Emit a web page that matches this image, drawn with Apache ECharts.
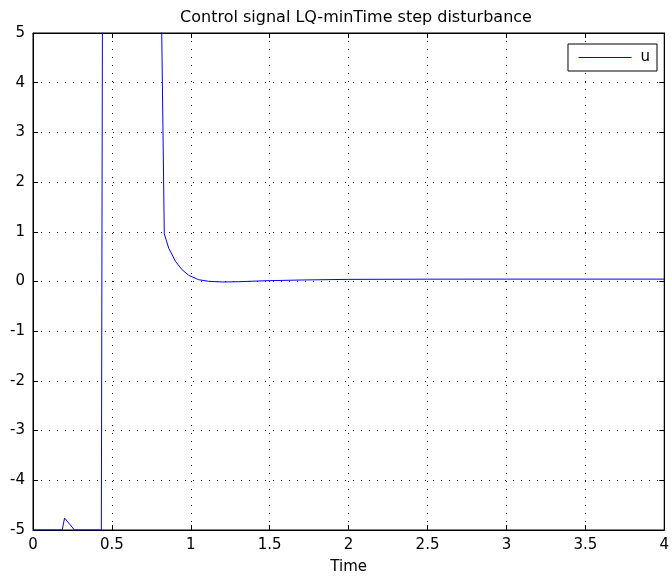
<!DOCTYPE html>
<html>
<head>
<meta charset="utf-8">
<script src="https://cdn.jsdelivr.net/npm/echarts@6/dist/echarts.min.js"></script>
<style>
  html, body { margin: 0; padding: 0; background: #fff; }
  #chart { width: 672px; height: 580px; }
</style>
</head>
<body>
<div id="chart"></div>
<script>
// control signal u(t) (between 0.44 and 0.82 the signal is above the axis top)
const timeValues = [0, 0.185, 0.2, 0.263, 0.433, 0.44, 0.6, 0.815, 0.832, 0.86, 0.904, 0.945, 0.987, 1.05, 1.113, 1.2, 1.3, 1.47, 1.7, 2.0, 2.5, 3.0, 3.5, 4.0];
const uValues    = [-5, -5, -4.76, -5, -5, 5.2, 5.2, 5.2, 0.96, 0.67, 0.40, 0.236, 0.124, 0.036, 0.004, -0.01, -0.005, 0.015, 0.03, 0.043, 0.047, 0.048, 0.048, 0.048];
const xTicks = [0, 0.5, 1, 1.5, 2, 2.5, 3, 3.5, 4];
const yTicks = [-5, -4, -3, -2, -1, 0, 1, 2, 3, 4, 5];

const font = 'DejaVu Sans, Liberation Sans, sans-serif';

const uData = timeValues.map((t, i) => [t, uValues[i]]);

const dotted = {
    show: true,
    lineStyle: { color: '#000', type: [1, 7], width: 1 }
};

function tick() {
    return { show: true, inside: true, length: 5, lineStyle: { color: '#000' } };
}
function axisLine() {
    return { show: true, onZero: false, lineStyle: { color: '#000' } };
}

const option = {
    animation: false,
    color: ['#0000ff'],
    title: {
        text: 'Control signal LQ-minTime step disturbance',
        left: 351,
        textAlign: 'center',
        top: 5,
        textStyle: { fontFamily: font, fontSize: 16, fontWeight: 'normal', color: '#000' }
    },
    legend: {
        data: ['u'],
        right: 15,
        top: 44,
        itemWidth: 53,
        itemHeight: 14,
        itemGap: 0,
        padding: [6, 7, 6, 10],
        borderColor: '#000',
        borderWidth: 1,
        backgroundColor: '#fff',
        // hide the marker dot, keep only the line
        itemStyle: { color: 'rgba(0,0,0,0)', borderColor: 'rgba(0,0,0,0)', borderWidth: 0 },
        lineStyle: { width: 1, color: '#0000ff' },
        textStyle: { fontFamily: font, fontSize: 15, color: '#000', padding: [0, 0, 0, 4] }
    },
    grid: {
        left: 33,
        right: 4,
        top: 33,
        bottom: 46,
        show: true,
        borderColor: '#000',
        borderWidth: 1
    },
    xAxis: [
        {
            type: 'value',
            min: 0, max: 4, interval: 0.5,
            name: 'Time',
            nameLocation: 'middle',
            nameGap: 30,
            nameTextStyle: { fontFamily: font, fontSize: 15, color: '#000' },
            axisLine: axisLine(),
            axisTick: tick(),
            axisLabel: {
                fontFamily: font, fontSize: 15, color: '#000', margin: 8,
                formatter: v => xTicks.includes(v) ? String(v) : ''
            },
            splitLine: dotted
        },
        {
            type: 'value', position: 'top',
            min: 0, max: 4, interval: 0.5,
            axisLine: axisLine(),
            axisTick: tick(),
            axisLabel: { show: false },
            splitLine: { show: false }
        }
    ],
    yAxis: [
        {
            type: 'value',
            min: -5, max: 5, interval: 1,
            axisLine: axisLine(),
            axisTick: tick(),
            axisLabel: {
                fontFamily: font, fontSize: 15, color: '#000', margin: 8,
                formatter: v => yTicks.includes(v) ? String(v) : ''
            },
            splitLine: dotted
        },
        {
            type: 'value', position: 'right',
            min: -5, max: 5, interval: 1,
            axisLine: axisLine(),
            axisTick: tick(),
            axisLabel: { show: false },
            splitLine: { show: false }
        }
    ],
    series: [
        {
            name: 'u',
            type: 'line',
            data: uData,
            showSymbol: false,
            symbol: 'none',
            clip: true,
            lineStyle: { color: '#0000ff', width: 1 }
        }
    ]
};

const chart = echarts.init(document.getElementById('chart'));
chart.setOption(option);
</script>
</body>
</html>
